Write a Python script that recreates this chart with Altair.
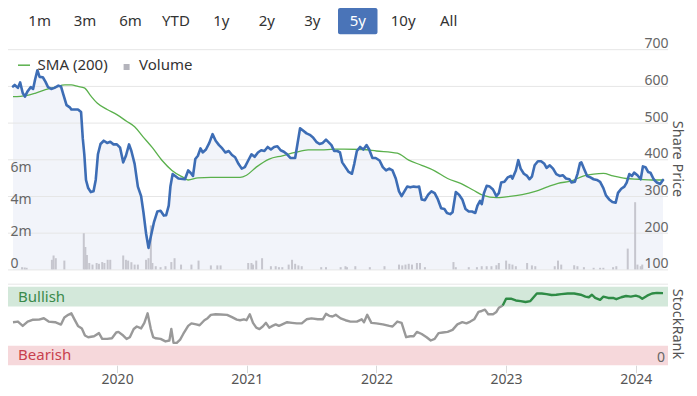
import altair as alt
import pandas as pd

# ---------------- data ----------------
buttons = ["1m", "3m", "6m", "YTD", "1y", "2y", "3y", "5y", "10y", "All"]
selected_button = "5y"

price_years = [2019.197, 2019.210, 2019.235, 2019.252, 2019.272, 2019.289, 2019.310, 2019.334, 2019.352, 2019.367,
               2019.385, 2019.402, 2019.427, 2019.447, 2019.467, 2019.492, 2019.517, 2019.547, 2019.567, 2019.585,
               2019.610, 2019.635, 2019.647, 2019.672, 2019.698, 2019.722, 2019.735, 2019.747, 2019.760, 2019.777,
               2019.797, 2019.818, 2019.835, 2019.852, 2019.872, 2019.897, 2019.923, 2019.947, 2019.972, 2019.998,
               2020.023, 2020.047, 2020.068, 2020.092, 2020.110, 2020.135, 2020.160, 2020.185, 2020.203, 2020.223,
               2020.242, 2020.260, 2020.285, 2020.310, 2020.335, 2020.360, 2020.378, 2020.398, 2020.411, 2020.428,
               2020.448, 2020.473, 2020.523, 2020.548, 2020.568, 2020.585, 2020.603, 2020.623, 2020.643, 2020.660,
               2020.685, 2020.711, 2020.736, 2020.760, 2020.786, 2020.811, 2020.835, 2020.861, 2020.886, 2020.910,
               2020.936, 2020.961, 2020.985, 2021.011, 2021.036, 2021.060, 2021.086, 2021.111, 2021.136, 2021.161,
               2021.186, 2021.211, 2021.236, 2021.261, 2021.286, 2021.311, 2021.336, 2021.373, 2021.394, 2021.411,
               2021.436, 2021.461, 2021.486, 2021.511, 2021.536, 2021.561, 2021.586, 2021.611, 2021.636, 2021.653,
               2021.674, 2021.698, 2021.719, 2021.736, 2021.786, 2021.811, 2021.829, 2021.849, 2021.874, 2021.899,
               2021.924, 2021.944, 2021.969, 2021.994, 2022.024, 2022.049, 2022.074, 2022.099, 2022.124, 2022.149,
               2022.174, 2022.194, 2022.212, 2022.237, 2022.261, 2022.287, 2022.312, 2022.329, 2022.349, 2022.374,
               2022.399, 2022.424, 2022.449, 2022.474, 2022.499, 2022.524, 2022.544, 2022.569, 2022.587, 2022.612,
               2022.637, 2022.662, 2022.687, 2022.712, 2022.737, 2022.762, 2022.779, 2022.799, 2022.812, 2022.829,
               2022.850, 2022.874, 2022.899, 2022.925, 2022.944, 2022.962, 2022.987, 2023.012, 2023.037, 2023.049,
               2023.075, 2023.094, 2023.112, 2023.137, 2023.162, 2023.180, 2023.199, 2023.220, 2023.245, 2023.270,
               2023.295, 2023.312, 2023.337, 2023.362, 2023.387, 2023.413, 2023.437, 2023.462, 2023.488, 2023.505,
               2023.530, 2023.550, 2023.570, 2023.580, 2023.600, 2023.625, 2023.650, 2023.675, 2023.700, 2023.725,
               2023.750, 2023.770, 2023.795, 2023.820, 2023.845, 2023.863, 2023.888, 2023.912, 2023.930, 2023.950,
               2023.970, 2023.987, 2024.013, 2024.038, 2024.055, 2024.075, 2024.095, 2024.113, 2024.138, 2024.163,
               2024.188, 2024.210]
price_values = [600, 604, 596, 611, 582, 572, 587, 598, 593, 618,
                644, 626, 625, 613, 598, 593, 596, 602, 600, 578,
                549, 543, 537, 537, 537, 530, 459, 415, 345, 323,
                312, 314, 345, 415, 443, 452, 446, 449, 442, 442,
                433, 393, 411, 442, 424, 389, 327, 301, 257, 200,
                160, 191, 231, 259, 261, 248, 249, 275, 327, 361,
                356, 349, 347, 371, 364, 356, 402, 411, 431, 420,
                428, 446, 470, 452, 440, 431, 420, 424, 413, 407,
                389, 376, 380, 398, 415, 408, 420, 426, 424, 435,
                428, 435, 437, 426, 422, 415, 405, 405, 450, 486,
                479, 472, 468, 461, 449, 443, 446, 455, 446, 440,
                424, 424, 420, 393, 367, 362, 389, 424, 435, 428,
                440, 428, 405, 405, 398, 380, 371, 376, 371, 349,
                314, 301, 312, 327, 325, 327, 326, 327, 292, 290,
                305, 314, 309, 292, 268, 266, 255, 252, 257, 312,
                305, 292, 266, 259, 259, 255, 275, 288, 279, 309,
                329, 327, 319, 301, 309, 338, 340, 352, 356, 349,
                371, 399, 376, 362, 356, 347, 354, 385, 396, 396,
                389, 378, 385, 376, 361, 356, 358, 349, 347, 338,
                340, 361, 391, 393, 376, 356, 352, 347, 345, 340,
                323, 303, 292, 285, 283, 310, 321, 327, 338, 361,
                356, 365, 358, 347, 382, 380, 367, 365, 347, 338,
                334, 345]

sma_years = [2019.197, 2019.297, 2019.372, 2019.447, 2019.522, 2019.597, 2019.647, 2019.698, 2019.747, 2019.797,
             2019.848, 2019.923, 2019.998, 2020.073, 2020.135, 2020.197, 2020.272, 2020.347, 2020.423, 2020.510,
             2020.548, 2020.623, 2020.723, 2020.848, 2020.948, 2020.998, 2021.073, 2021.173, 2021.274, 2021.373,
             2021.473, 2021.574, 2021.674, 2021.749, 2021.899, 2021.999, 2022.161, 2022.249, 2022.349, 2022.449,
             2022.549, 2022.649, 2022.749, 2022.824, 2022.925, 2023.000, 2023.124, 2023.225, 2023.325, 2023.400,
             2023.500, 2023.600, 2023.675, 2023.750, 2023.825, 2023.925, 2024.025, 2024.125, 2024.210]
sma_values = [572, 575, 582, 591, 598, 604, 604, 600, 596, 574,
              554, 537, 523, 505, 490, 464, 433, 398, 371, 352,
              345, 351, 352, 352, 352, 358, 380, 402, 411, 420,
              427, 427, 429, 429, 428, 424, 418, 399, 385, 370,
              349, 336, 317, 303, 297, 299, 305, 314, 327, 336,
              342, 356, 361, 363, 356, 349, 347, 345, 345]

# volume, millions of shares
vol_years = [2019.267, 2019.287, 2019.302, 2019.497, 2019.510, 2019.527, 2019.593, 2019.743, 2019.755, 2019.767,
             2019.785, 2019.810, 2019.842, 2019.860, 2019.885, 2019.902, 2019.927, 2019.947, 2020.047, 2020.068,
             2020.085, 2020.110, 2020.135, 2020.160, 2020.223, 2020.242, 2020.260, 2020.272, 2020.298, 2020.335,
             2020.373, 2020.418, 2020.443, 2020.493, 2020.573, 2020.628, 2020.723, 2020.773, 2020.798, 2021.011,
             2021.036, 2021.048, 2021.073, 2021.118, 2021.186, 2021.223, 2021.248, 2021.274, 2021.323, 2021.349,
             2021.373, 2021.398, 2021.424, 2021.574, 2021.611, 2021.724, 2021.761, 2021.773, 2021.837, 2021.949,
             2022.062, 2022.174, 2022.199, 2022.224, 2022.249, 2022.274, 2022.312, 2022.336, 2022.374, 2022.594,
             2022.612, 2022.712, 2022.775, 2022.812, 2022.850, 2022.887, 2022.925, 2022.944, 2023.000, 2023.025,
             2023.049, 2023.075, 2023.162, 2023.199, 2023.225, 2023.375, 2023.400, 2023.425, 2023.525, 2023.550,
             2023.600, 2023.675, 2023.725, 2023.750, 2023.825, 2023.850, 2023.938, 2023.995, 2024.013, 2024.038,
             2024.050]
vol_values = [0.14, 0.12, 0.10, 0.60, 0.87, 0.70, 0.55, 2.26, 1.40, 0.90,
              0.40, 0.30, 0.40, 0.35, 0.46, 0.40, 0.60, 0.60, 0.87, 0.60,
              0.55, 0.45, 0.30, 0.30, 0.60, 0.70, 2.75, 0.40, 0.20, 0.14,
              0.20, 0.46, 0.70, 0.30, 0.30, 0.55, 0.25, 0.25, 0.25, 0.40,
              0.40, 0.30, 0.55, 0.70, 0.20, 0.20, 0.14, 0.14, 0.30, 0.60,
              0.35, 0.25, 0.20, 0.14, 0.14, 0.14, 0.20, 0.14, 0.20, 0.14,
              0.20, 0.30, 0.25, 0.30, 0.35, 0.30, 0.40, 0.40, 0.14, 0.46,
              0.14, 0.14, 0.14, 0.20, 0.20, 0.20, 0.26, 0.40, 0.55, 0.35,
              0.30, 0.20, 0.40, 0.25, 0.20, 0.20, 0.55, 0.30, 0.26, 0.20,
              0.14, 0.10, 0.10, 0.10, 0.14, 0.20, 1.30, 4.20, 0.30, 0.20,
              0.30]

rank_gray_years = [2019.197, 2019.235, 2019.272, 2019.310, 2019.347, 2019.397, 2019.435, 2019.472, 2019.522, 2019.567,
                   2019.593, 2019.623, 2019.647, 2019.672, 2019.698, 2019.728, 2019.752, 2019.777, 2019.822, 2019.860,
                   2019.885, 2019.923, 2019.960, 2019.993, 2020.010, 2020.047, 2020.073, 2020.098, 2020.128, 2020.152,
                   2020.185, 2020.210, 2020.235, 2020.260, 2020.278, 2020.298, 2020.335, 2020.373, 2020.403, 2020.418,
                   2020.435, 2020.460, 2020.486, 2020.510, 2020.548, 2020.573, 2020.610, 2020.636, 2020.673, 2020.698,
                   2020.723, 2020.760, 2020.798, 2020.848, 2020.886, 2020.923, 2020.948, 2020.978, 2020.998, 2021.023,
                   2021.048, 2021.073, 2021.098, 2021.123, 2021.148, 2021.173, 2021.198, 2021.223, 2021.248, 2021.274,
                   2021.311, 2021.349, 2021.386, 2021.424, 2021.461, 2021.499, 2021.548, 2021.586, 2021.611, 2021.636,
                   2021.661, 2021.686, 2021.724, 2021.761, 2021.799, 2021.849, 2021.886, 2021.904, 2021.929, 2021.961,
                   2021.999, 2022.049, 2022.099, 2022.124, 2022.161, 2022.194, 2022.229, 2022.261, 2022.287, 2022.312,
                   2022.349, 2022.387, 2022.419, 2022.449, 2022.479, 2022.512, 2022.549, 2022.587, 2022.624, 2022.662,
                   2022.694, 2022.724, 2022.754, 2022.787, 2022.812, 2022.837, 2022.862, 2022.899, 2022.925, 2022.944,
                   2022.974]
rank_gray_values = [54.9, 55.7, 50.2, 55.7, 58.0, 58.2, 59.9, 55.7, 54.9, 51.9,
                    61.0, 64.3, 66.2, 58.2, 50.2, 47.0, 37.9, 35.8, 37.0, 41.0,
                    33.6, 33.6, 34.4, 41.8, 42.6, 37.9, 33.6, 35.8, 46.2, 49.4,
                    47.0, 54.1, 66.2, 46.2, 35.8, 34.4, 33.6, 30.4, 31.6, 46.2,
                    28.6, 28.6, 32.8, 39.9, 50.2, 53.4, 52.1, 51.0, 57.4, 60.0,
                    64.3, 65.1, 64.7, 64.3, 61.4, 58.2, 57.4, 58.6, 57.4, 65.1,
                    54.1, 47.9, 46.2, 49.4, 54.1, 47.9, 50.2, 52.1, 50.2, 52.1,
                    54.9, 54.1, 53.4, 53.4, 58.6, 59.8, 58.6, 58.6, 65.5, 63.0,
                    62.2, 64.3, 59.8, 57.4, 55.7, 55.7, 58.6, 54.9, 64.3, 54.1,
                    53.4, 52.1, 50.2, 49.4, 55.7, 54.1, 35.8, 37.0, 37.0, 42.6,
                    39.9, 35.8, 31.6, 33.6, 41.0, 41.8, 42.6, 45.1, 52.1, 54.9,
                    53.4, 55.7, 58.6, 68.0, 69.2, 70.9, 65.1, 65.1, 68.0, 73.3,
                    76.2]
rank_green_years = [2022.974, 2023.000, 2023.037, 2023.075, 2023.112, 2023.150, 2023.187, 2023.212, 2023.237, 2023.275,
                    2023.312, 2023.350, 2023.387, 2023.425, 2023.475, 2023.525, 2023.575, 2023.612, 2023.638, 2023.662,
                    2023.687, 2023.725, 2023.750, 2023.788, 2023.825, 2023.850, 2023.888, 2023.925, 2023.962, 2024.000,
                    2024.025, 2024.050, 2024.088, 2024.125, 2024.163, 2024.210]
rank_green_values = [76.2, 84.8, 84.8, 82.6, 81.8, 80.6, 81.8, 86.7, 91.5, 91.5,
                     90.7, 89.5, 89.9, 90.7, 91.5, 91.5, 89.9, 87.5, 86.7, 89.9,
                     85.8, 83.4, 87.5, 85.8, 85.8, 84.2, 86.7, 88.3, 87.5, 88.7,
                     87.5, 84.8, 88.7, 91.5, 92.3, 91.9]

price_ticks = [100, 200, 300, 400, 500, 600, 700]
volume_ticks = [0, 2, 4, 6]
year_ticks = [2020, 2021, 2022, 2023, 2024]
band_names = ["Bullish", "Bearish"]
band_low = [75, 0]
band_high = [100, 25]
x_start, x_end = 2019.197, 2024.210

# ---------------- styling ----------------
FONT = "Noto Sans"
W, H = 660, 380
BLUE = "#3d6db5"
SMA_GREEN = "#5ab04c"
VOL_GRAY = "#c6c6ce"
GRID = "#e6e6e6"

price_df = pd.DataFrame({"yr": price_years, "v": price_values})
sma_df = pd.DataFrame({"yr": sma_years, "v": sma_values})
vol_df = pd.DataFrame({"yr": vol_years, "v": vol_values})
gray_df = pd.DataFrame({"yr": rank_gray_years, "v": rank_gray_values})
green_df = pd.DataFrame({"yr": rank_green_years, "v": rank_green_values})
tick_df = pd.DataFrame({"v": price_ticks})
band_df = pd.DataFrame({"name": band_names, "lo": band_low, "hi": band_high})
band_df["mid"] = (band_df["lo"] + band_df["hi"]) / 2
btn_df = pd.DataFrame({"label": buttons})
btn_df["px"] = [31.6 + i * 45.45 for i in range(len(buttons))]
btn_df["c"] = ["#ffffff" if b == selected_button else "#333333" for b in buttons]
one = alt.Data(values=[{"a": 1}])

xs = alt.Scale(domain=[x_start, x_end], nice=False, zero=False)
xaxis = alt.Axis(values=year_ticks, format="d", title=None, grid=False, domain=False,
                 ticks=True, tickSize=7.5, tickColor="#d9d9d9", labelPadding=0,
                 labelFontSize=14, labelColor="#555555", labelFont=FONT, offset=-22.8,
                 labelFlush=False, labelOverlap=False, zindex=1)
ps = alt.Scale(domain=[100, 700], range=[261.9, 41.7], nice=False, zero=False)
vs = alt.Scale(domain=[0, 6], range=[261.4, 165.4], nice=False)
rs = alt.Scale(domain=[0, 100], range=[357.3, 278.8], nice=False)


def X():
    return alt.X("yr:Q", scale=xs, axis=xaxis)


price_axis = alt.Axis(orient="right", values=price_ticks, title=None, grid=False, domain=False,
                      ticks=False, tickSize=0, labelPadding=0, labelAlign="right",
                      labelBaseline="alphabetic", labelOffset=-2, labelFontSize=14,
                      labelColor="#666666", labelFont=FONT, labelOverlap=False, labelFlush=False,
                      zindex=1)
vol_axis = alt.Axis(orient="left", values=volume_ticks, title=None, grid=False, domain=False,
                    ticks=False, tickSize=0, labelPadding=-2, labelAlign="left",
                    labelBaseline="alphabetic", labelOffset=-2, labelFontSize=14,
                    labelColor="#666666", labelFont=FONT, labelOverlap=False, labelFlush=False,
                    labelExpr="datum.value == 0 ? '0' : datum.value + 'm'", zindex=1)

# buttons
btn_rect = alt.Chart(one).mark_rect(color="#4a74b8", cornerRadius=2).encode(
    x=alt.value(330), x2=alt.value(369.5), y=alt.value(0), y2=alt.value(26.2))
btn_text = alt.Chart(btn_df).mark_text(font=FONT, fontSize=15, baseline="middle", align="center").encode(
    x=alt.X("px:Q", scale=None), y=alt.value(12.8), text="label:N",
    color=alt.Color("c:N", scale=None))

# main panel
area = alt.Chart(price_df).mark_area(color="#f2f4fa", opacity=1).encode(
    x=X(), y=alt.Y("v:Q", scale=ps, axis=None), y2=alt.datum(100))
grid = alt.Chart(tick_df).mark_rule(color=GRID, strokeWidth=1).encode(
    y=alt.Y("v:Q", scale=ps, axis=price_axis), x=alt.value(0), x2=alt.value(W))
vol = alt.Chart(vol_df).mark_bar(size=2, color=VOL_GRAY).encode(
    x=X(), y=alt.Y("v:Q", scale=vs, axis=vol_axis))
sma = alt.Chart(sma_df).mark_line(color=SMA_GREEN, strokeWidth=1.3, interpolate="monotone").encode(
    x=X(), y=alt.Y("v:Q", scale=ps, axis=None))
price = alt.Chart(price_df).mark_line(color=BLUE, strokeWidth=2.6, strokeJoin="round", strokeCap="round").encode(
    x=X(), y=alt.Y("v:Q", scale=ps, axis=None))

# legend
leg_line = alt.Chart(one).mark_rule(color=SMA_GREEN, strokeWidth=1.5).encode(
    x=alt.value(10), x2=alt.value(22), y=alt.value(57.2))
leg_sma = alt.Chart(one).mark_text(text="SMA (200)", font=FONT, fontSize=15, align="left",
                                   baseline="middle", color="#333333").encode(x=alt.value(29.6), y=alt.value(57.2))
leg_sq = alt.Chart(one).mark_square(size=36, color="#b4b4bc", opacity=1, filled=True).encode(
    x=alt.value(118.6), y=alt.value(59))
leg_vol = alt.Chart(one).mark_text(text="Volume", font=FONT, fontSize=15, align="left",
                                   baseline="middle", color="#333333").encode(x=alt.value(131), y=alt.value(57.2))

# stockrank panel
sep = alt.Chart(one).mark_rule(color=GRID, strokeWidth=1).encode(
    x=alt.value(0), x2=alt.value(W), y=alt.value(276.2))
band_colors = {"Bullish": ("#d3e8da", "#3a8a4b"), "Bearish": ("#f6d8db", "#c8404e")}
band_layers = []
for name in band_names:
    fill, tcol = band_colors[name]
    base = alt.Chart(band_df).transform_filter(alt.datum.name == name)
    band_layers.append(base.mark_rect(color=fill).encode(
        y=alt.Y("hi:Q", scale=rs, axis=None), y2="lo:Q", x=alt.value(0), x2=alt.value(W)))
    band_layers.append(base.mark_text(font=FONT, fontSize=15, align="left", baseline="middle", color=tcol).encode(
        y=alt.Y("mid:Q", scale=rs, axis=None), x=alt.value(10), text="name:N"))
rank_gray = alt.Chart(gray_df).mark_line(color="#999999", strokeWidth=2.4, strokeJoin="round").encode(
    x=X(), y=alt.Y("v:Q", scale=rs, axis=None))
rank_green = alt.Chart(green_df).mark_line(color="#2e8b45", strokeWidth=2.4, strokeJoin="round").encode(
    x=X(), y=alt.Y("v:Q", scale=rs, axis=None))
rank_zero = alt.Chart(one).mark_text(text="0", font=FONT, fontSize=14, align="right",
                                     baseline="alphabetic", dy=-3, color="#666666").encode(
    x=alt.value(657), y=alt.Y("z:Q", scale=rs, axis=None)).transform_calculate(z="0")

# titles
t_price = alt.Chart(one).mark_text(text="Share Price", font=FONT, fontSize=14.5, angle=90,
                                   align="center", baseline="middle", color="#555555").encode(
    x=alt.value(669), y=alt.value(151))
t_rank = alt.Chart(one).mark_text(text="StockRank", font=FONT, fontSize=14.5, angle=90,
                                  align="center", baseline="middle", color="#555555").encode(
    x=alt.value(669), y=alt.value(316))

chart = alt.layer(
    btn_rect, btn_text, area, grid, vol, sma, price,
    leg_line, leg_sma, leg_sq, leg_vol,
    sep, *band_layers, rank_gray, rank_green, rank_zero, t_price, t_rank
).resolve_scale(y="independent").properties(
    width=W, height=H,
    autosize=alt.AutoSizeParams(type="none"),
    padding={"left": 0, "top": 0, "right": 21, "bottom": 0},
).configure_view(strokeWidth=0)

chart.save("out.html", embed_options={"renderer": "svg", "actions": False})
